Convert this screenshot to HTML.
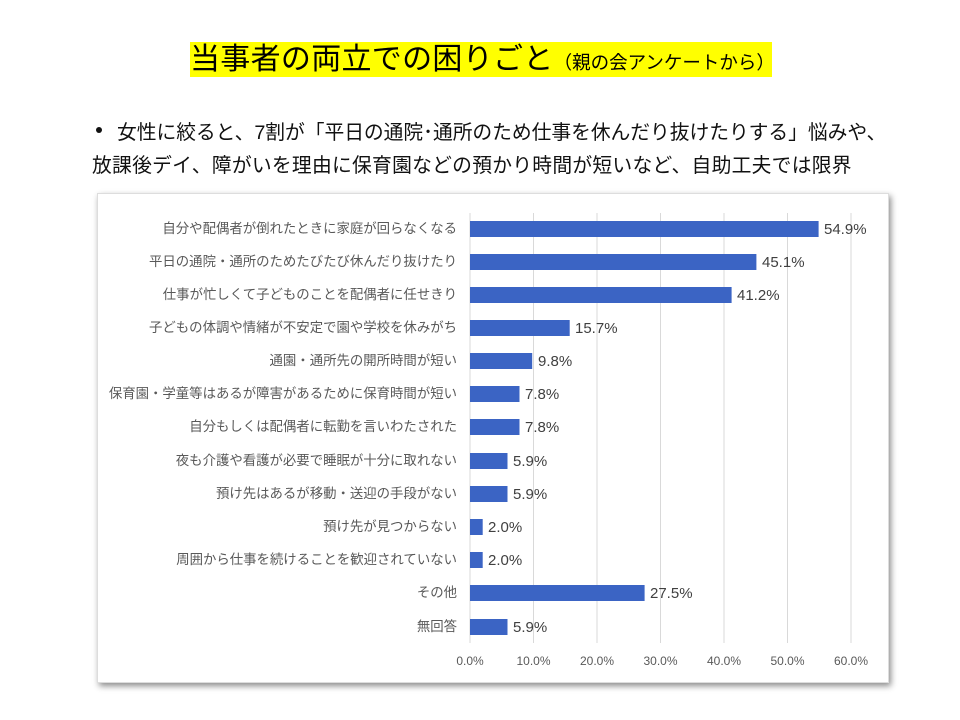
<!DOCTYPE html>
<html><head><meta charset="utf-8"><style>
body{margin:0;width:960px;height:720px;background:#fff;position:relative;overflow:hidden;font-family:"Liberation Sans","Noto Sans CJK JP",sans-serif;}
.t{position:absolute;left:190px;top:42px;width:582px;height:35px;background:#ffff00;white-space:nowrap;line-height:35px;color:#000;font-family:"Liberation Serif","Noto Sans CJK JP",sans-serif;}
.b{position:absolute;font-size:19.8px;color:#111;white-space:nowrap;}
.chart{position:absolute;left:97px;top:193px;width:790px;height:488px;background:#fff;box-shadow:2px 3px 6px rgba(0,0,0,0.45);border:1px solid #ddd;}
</style></head><body>
<div class="t"><span style="font-size:30px;letter-spacing:0.3px">当事者の両立での困りごと</span><span style="font-size:18.5px">（親の会アンケートから）</span></div>
<div style="position:absolute;left:96px;top:127px;width:6px;height:6px;border-radius:3px;background:#111"></div>
<div class="b" style="left:117px;top:116px;letter-spacing:-0.05px">女性に絞ると、7割が「平日の通院･通所のため仕事を休んだり抜けたりする」悩みや、</div>
<div class="b" style="left:92px;top:149px;letter-spacing:0.25px">放課後デイ、障がいを理由に保育園などの預かり時間が短いなど、自助工夫では限界</div>
<div class="chart"></div>
<svg style="position:absolute;left:0;top:0" width="960" height="720" font-family="Liberation Sans, Noto Sans CJK JP, sans-serif">
<g stroke="#d9d9d9" stroke-width="1">
<line x1="533.5" y1="213" x2="533.5" y2="643"/><line x1="597" y1="213" x2="597" y2="643"/><line x1="660.5" y1="213" x2="660.5" y2="643"/><line x1="724" y1="213" x2="724" y2="643"/><line x1="787.5" y1="213" x2="787.5" y2="643"/><line x1="851" y1="213" x2="851" y2="643"/>
<line x1="470" y1="213" x2="470" y2="643"/>
</g>
<g fill="#3b64c4">
<rect x="470" y="221" width="348.6" height="16"/>
<rect x="470" y="254" width="286.4" height="16"/>
<rect x="470" y="287" width="261.6" height="16"/>
<rect x="470" y="320" width="99.7" height="16"/>
<rect x="470" y="353" width="62.2" height="16"/>
<rect x="470" y="386" width="49.5" height="16"/>
<rect x="470" y="419" width="49.5" height="16"/>
<rect x="470" y="453" width="37.5" height="16"/>
<rect x="470" y="486" width="37.5" height="16"/>
<rect x="470" y="519" width="12.7" height="16"/>
<rect x="470" y="552" width="12.7" height="16"/>
<rect x="470" y="585" width="174.6" height="16"/>
<rect x="470" y="619" width="37.5" height="16"/>
</g>
<g font-size="15" fill="#404040">
<text x="824" y="234">54.9%</text><text x="762" y="267">45.1%</text><text x="737" y="300">41.2%</text><text x="575" y="333">15.7%</text><text x="538" y="366">9.8%</text><text x="525" y="399">7.8%</text><text x="525" y="432">7.8%</text><text x="513" y="466">5.9%</text><text x="513" y="499">5.9%</text><text x="488" y="532">2.0%</text><text x="488" y="565">2.0%</text><text x="650" y="598">27.5%</text><text x="513" y="632">5.9%</text>
</g>
<g font-size="13.4" fill="#595959" text-anchor="end">
<text x="457" y="233">自分や配偶者が倒れたときに家庭が回らなくなる</text>
<text x="457" y="266">平日の通院・通所のためたびたび休んだり抜けたり</text>
<text x="457" y="299">仕事が忙しくて子どものことを配偶者に任せきり</text>
<text x="457" y="332">子どもの体調や情緒が不安定で園や学校を休みがち</text>
<text x="457" y="365">通園・通所先の開所時間が短い</text>
<text x="457" y="398">保育園・学童等はあるが障害があるために保育時間が短い</text>
<text x="457" y="431">自分もしくは配偶者に転勤を言いわたされた</text>
<text x="457" y="465">夜も介護や看護が必要で睡眠が十分に取れない</text>
<text x="457" y="498">預け先はあるが移動・送迎の手段がない</text>
<text x="457" y="531">預け先が見つからない</text>
<text x="457" y="564">周囲から仕事を続けることを歓迎されていない</text>
<text x="457" y="597">その他</text>
<text x="457" y="631">無回答</text>
</g>
<g font-size="12" fill="#595959" text-anchor="middle">
<text x="470" y="665">0.0%</text><text x="533.5" y="665">10.0%</text><text x="597" y="665">20.0%</text><text x="660.5" y="665">30.0%</text><text x="724" y="665">40.0%</text><text x="787.5" y="665">50.0%</text><text x="851" y="665">60.0%</text>
</g>
</svg>
</body></html>
